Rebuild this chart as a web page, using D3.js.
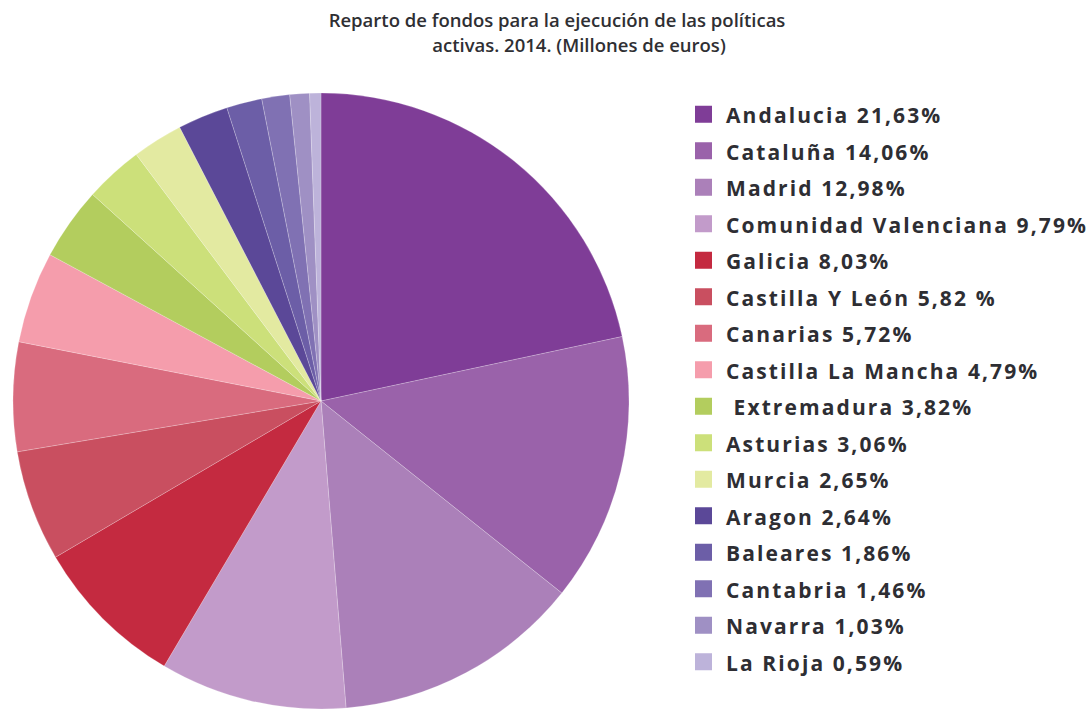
<!DOCTYPE html>
<html>
<head>
<meta charset="utf-8">
<script src="https://cdn.jsdelivr.net/npm/d3@7"></script>
<style>
  html, body { margin: 0; padding: 0; background: #fff; }
  svg { display: block; }
</style>
</head>
<body>
<svg id="chart" width="1088" height="710"></svg>
<script>
// Share of active-policy funds by autonomous community, 2014 (%)
const regions = [
  "Andalucia", "Cataluña", "Madrid", "Comunidad Valenciana", "Galicia",
  "Castilla Y León", "Canarias", "Castilla La Mancha", "Extremadura",
  "Asturias", "Murcia", "Aragon", "Baleares", "Cantabria", "Navarra", "La Rioja"
];
const shares = [21.63, 14.06, 12.98, 9.79, 8.03, 5.82, 5.72, 4.79, 3.82,
                3.06, 2.65, 2.64, 1.86, 1.46, 1.03, 0.59];
const legendLabels = [
  "Andalucia 21,63%", "Cataluña 14,06%", "Madrid 12,98%",
  "Comunidad Valenciana 9,79%", "Galicia 8,03%", "Castilla Y León 5,82 %",
  "Canarias 5,72%", "Castilla La Mancha 4,79%", " Extremadura 3,82%",
  "Asturias 3,06%", "Murcia 2,65%", "Aragon 2,64%", "Baleares 1,86%",
  "Cantabria 1,46%", "Navarra 1,03%", "La Rioja 0,59%"
];
const palette = [
  "#7f3d97", "#9a62aa", "#ab80b9", "#c29bca", "#c42a40", "#c94f60",
  "#d96b7e", "#f59dac", "#b3cd5e", "#cce07a", "#e3eaa1", "#5b4898",
  "#6c5ea7", "#8071b3", "#9f90c4", "#bdb3da"
];
const titleLines = [
  "Reparto de fondos para la ejecución de las políticas",
  "activas. 2014. (Millones de euros)"
];

const svg = d3.select("#chart");
const data = regions.map((r, i) => ({ region: r, value: shares[i], label: legendLabels[i] }));
const color = d3.scaleOrdinal().domain(regions).range(palette);

// Title
const title = svg.append("text")
  .attr("font-family", "'Open Sans', sans-serif")
  .attr("font-weight", 600)
  .attr("font-size", 18.5)
  .attr("fill", "#2f2f33");
title.selectAll("tspan").data(titleLines).join("tspan")
  .attr("x", (d, i) => i === 0 ? 557 : 579)
  .attr("y", (d, i) => 27 + i * 24.5)
  .attr("text-anchor", "middle")
  .text(d => d);

// Pie, clockwise from 12 o'clock in data order
const cx = 321, cy = 401, radius = 308;
const pie = d3.pie().value(d => d.value).sort(null);
const arc = d3.arc().innerRadius(0).outerRadius(radius);

svg.append("g")
  .attr("transform", `translate(${cx},${cy})`)
  .selectAll("path")
  .data(pie(data))
  .join("path")
  .attr("d", arc)
  .attr("fill", d => color(d.data.region))
  .attr("stroke", "#fff")
  .attr("stroke-opacity", 0.35)
  .attr("stroke-width", 0.6);

// Legend
const legendY = d3.scaleBand().domain(regions).range([97, 681]).paddingInner(0);
const legend = svg.append("g");
const item = legend.selectAll("g").data(data).join("g")
  .attr("transform", d => `translate(695,${legendY(d.region) + legendY.bandwidth() / 2})`);
item.append("rect")
  .attr("x", 0).attr("y", -9.5)
  .attr("width", 17).attr("height", 17)
  .attr("fill", d => color(d.region));
item.append("text")
  .attr("x", 31).attr("y", 8)
  .attr("font-family", "'Open Sans', sans-serif")
  .attr("font-weight", 700)
  .attr("font-size", 21)
  .attr("letter-spacing", 2.1)
  .attr("fill", "#2e2e33")
  .attr("xml:space", "preserve")
  .style("white-space", "pre")
  .text(d => d.label);
</script>
</body>
</html>
